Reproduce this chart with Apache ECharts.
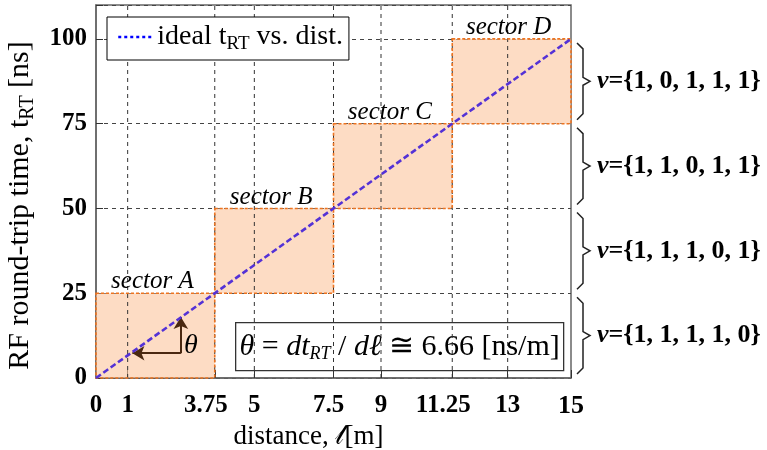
<!DOCTYPE html>
<html><head><meta charset="utf-8">
<script src="https://cdn.jsdelivr.net/npm/echarts@6/dist/echarts.min.js"></script>
<style>html,body{margin:0;padding:0;background:#fff}#c{width:767px;height:450px}</style>
</head><body><div id="c"></div>
<script>
const xTicks = [0, 1, 3.75, 5, 7.5, 9, 11.25, 13, 15];
const xGridLines = [1, 3.75, 5, 7.5, 9, 11.25, 13];
const yTicks = [0, 25, 50, 75, 100];
const idealDist = [0, 15];
const idealTime = [0, 100];
const sectorNames = ['sector A', 'sector B', 'sector C', 'sector D'];
const sectorDistStart = [0, 3.75, 7.5, 11.25];
const sectorDistEnd = [3.75, 7.5, 11.25, 15];
const sectorTimeStart = [0, 25, 50, 75];
const sectorTimeEnd = [25, 50, 75, 100];
const sectorCodes = ['1, 1, 1, 1, 0', '1, 1, 1, 0, 1', '1, 1, 0, 1, 1', '1, 0, 1, 1, 1'];
const slopeText = '6.66';

const SERIF = '"Liberation Serif", "DejaVu Serif", serif';
const chart = echarts.init(document.getElementById('c'), null, {renderer: 'canvas'});
const sectorIdx = sectorNames.map((n, i) => i);

function sectorRect(api, i) {
  const p0 = api.coord([sectorDistStart[i], sectorTimeEnd[i]]);
  const p1 = api.coord([sectorDistEnd[i], sectorTimeStart[i]]);
  return {x: p0[0], y: p0[1], width: p1[0] - p0[0], height: p1[1] - p0[1]};
}

const option = {
  animation: false,
  backgroundColor: '#fff',
  grid: {left: 96, right: 196, top: 5, bottom: 72, show: true, containLabel: false, outerBoundsMode: 'none',
    borderColor: '#666', borderWidth: 1.5, backgroundColor: 'transparent'},
  legend: {
    left: 107, top: 17,
    data: [{name: 'ideal', lineStyle: {color: '#0000ff', type: [3, 3], width: 2.5}, itemStyle: {opacity: 0}}],
    formatter: () => 'ideal t{s|RT} vs. dist.',
    textStyle: {fontFamily: SERIF, fontSize: 28, color: '#000', rich: {s: {fontFamily: SERIF, fontSize: 19, padding: [15, 0, 0, 0]}}},
    itemWidth: 34, itemHeight: 14, itemGap: 6,
    borderColor: '#000', borderWidth: 1, backgroundColor: '#fff',
    padding: [6, 6, 6, 10]
  },
  xAxis: {
    type: 'value', min: 0, max: 15,
    name: 'distance, 𝓁[m]', nameLocation: 'middle', nameGap: 42,
    nameTextStyle: {fontFamily: SERIF, fontSize: 27, color: '#000', padding: [0, 50, 0, 0]},
    axisLine: {lineStyle: {color: '#666', width: 1.5}},
    axisTick: {inside: true, length: 8, customValues: xTicks, lineStyle: {color: '#333'}},
    splitLine: {show: false},
    axisLabel: {
      customValues: xTicks, margin: 15,
      fontFamily: SERIF, fontSize: 25, fontWeight: 'bold', color: '#000',
      formatter: v => {
        if (v === 3.75) return '{a|3.75}';
        if (v === 7.5) return '{b|7.5}';
        if (v === 11.25) return '{a|11.25}';
        if (v === 15) return '{d|15}';
        return String(v);
      },
      rich: {
        a: {fontFamily: SERIF, fontSize: 25, fontWeight: 'bold', color: '#000', padding: [0, 18, 0, 0]},
        b: {fontFamily: SERIF, fontSize: 25, fontWeight: 'bold', color: '#000', padding: [0, 10, 0, 0]},
        d: {fontFamily: SERIF, fontSize: 26, fontWeight: 'bold', color: '#000'}
      }
    }
  },
  yAxis: {
    type: 'value', min: 0, max: 110, interval: 25,
    name: 'RF round-trip time, t{s|RT} [ns]', nameLocation: 'middle', nameGap: 58, nameRotate: 90,
    nameTextStyle: {fontFamily: SERIF, fontSize: 30, color: '#000', padding: [0, 28, 0, 0],
      rich: {s: {fontFamily: SERIF, fontSize: 20, padding: [16, 0, 0, 0]}}},
    axisLine: {lineStyle: {color: '#666', width: 1.5}},
    axisTick: {inside: true, length: 7, lineStyle: {color: '#333'}},
    splitLine: {show: true, lineStyle: {color: '#444', type: [4, 4], width: 1}},
    axisLabel: {
      margin: 9, fontFamily: SERIF, fontSize: 25, fontWeight: 'bold', color: '#000',
      formatter: v => yTicks.includes(v) ? String(v) : ''
    }
  },
  series: [
    {
      type: 'custom', name: 'sectorFill', silent: true, z: 1,
      data: sectorIdx,
      renderItem: (params, api) => {
        const i = params.dataIndex;
        return {type: 'rect', shape: sectorRect(api, i), style: {fill: 'rgba(251,198,160,0.62)'}};
      }
    },
    {
      type: 'custom', name: 'xGrid', silent: true, z: 2,
      data: xGridLines,
      renderItem: (params, api) => {
        const v = xGridLines[params.dataIndex];
        const b = api.coord([v, 0]);
        const top = params.coordSys.y;
        return {type: 'line', shape: {x1: b[0], y1: b[1], x2: b[0], y2: top},
          style: {stroke: '#333', lineWidth: 1, lineDash: [4, 4]}};
      }
    },
    {
      type: 'custom', name: 'sectorEdge', silent: true, z: 3,
      data: sectorIdx,
      renderItem: (params, api) => {
        const i = params.dataIndex;
        const r = sectorRect(api, i);
        return {type: 'group', children: [
          {type: 'rect', shape: r, style: {fill: 'none', stroke: '#ee7420', lineWidth: 1.6, lineDash: [3, 2]}},
          {type: 'text', style: {x: r.x + r.width / 2 - 3, y: r.y + 1, text: sectorNames[i],
            font: 'italic 25px ' + SERIF, fill: '#000', align: 'center', verticalAlign: 'bottom'}}
        ]};
      }
    },
    {
      type: 'custom', name: 'braces', silent: true, z: 3,
      data: sectorIdx,
      renderItem: (params, api) => {
        const i = params.dataIndex;
        const t = api.coord([15, sectorTimeEnd[i]]);
        const b = api.coord([15, sectorTimeStart[i]]);
        const xr = t[0];
        const mid = (t[1] + b[1]) / 2;
        return {type: 'group', children: [
          {type: 'polyline', shape: {points: [[xr + 6, t[1] + 4], [xr + 12, t[1] + 10], [xr + 12, mid - 4], [xr + 19, mid],
            [xr + 12, mid + 4], [xr + 12, b[1] - 10], [xr + 6, b[1] - 4]]},
            style: {stroke: '#222', lineWidth: 1.5, fill: 'none'}},
          {type: 'text', style: {x: xr + 26, y: mid, text: '{v|v}={' + sectorCodes[i] + '}',
            font: 'bold 26px ' + SERIF, fill: '#000',
            verticalAlign: 'middle', align: 'left',
            rich: {
              v: {font: 'italic bold 26px ' + SERIF, fill: '#000'}
            }}}
        ]};
      }
    },
    {
      type: 'line', name: 'ideal', z: 5, symbol: 'none',
      data: idealDist.map((d, i) => [d, idealTime[i]]),
      lineStyle: {color: '#5432d6', width: 2.6, type: [6, 3]},
      itemStyle: {color: '#0000ff'},
      markLine: {
        silent: true, symbol: ['none', 'arrow'], symbolSize: [11, 12],
        lineStyle: {color: '#4a2810', width: 2, type: 'solid'},
        label: {show: false},
        data: [
          [{coord: [2.68, 7.3]}, {coord: [1.15, 7.3]}],
          [{coord: [2.68, 7.3]}, {coord: [2.68, 18]}]
        ]
      },
      markPoint: {
        silent: true, symbol: 'circle', symbolSize: 0,
        label: {show: true, position: 'inside', formatter: 'θ', fontFamily: SERIF, fontStyle: 'italic', fontSize: 28, color: '#000'},
        data: [{coord: [3.0, 9.5]}]
      }
    }
  ],
  graphic: [
    {
      type: 'group', left: 235, top: 322, z: 10,
      children: [
        {type: 'rect', shape: {x: 0, y: 0, width: 328, height: 48}, style: {fill: '#fff', stroke: '#333', lineWidth: 1.3}},
        {type: 'text', style: {x: 164, y: 24, align: 'center', verticalAlign: 'middle',
          text: '{i|θ}{n| = }{i|dt}{s|RT}{n| / }{i|dℓ}{n| ≅ ' + slopeText + ' [ns/m]}',
          rich: {
            i: {font: 'italic 30px ' + SERIF, fill: '#000'},
            n: {font: '30px ' + SERIF, fill: '#000'},
            s: {font: 'italic 18px ' + SERIF, fill: '#000', padding: [15, 0, 0, 0]}
          }}}
      ]
    }
  ]
};
chart.setOption(option);
</script>
</body></html>
